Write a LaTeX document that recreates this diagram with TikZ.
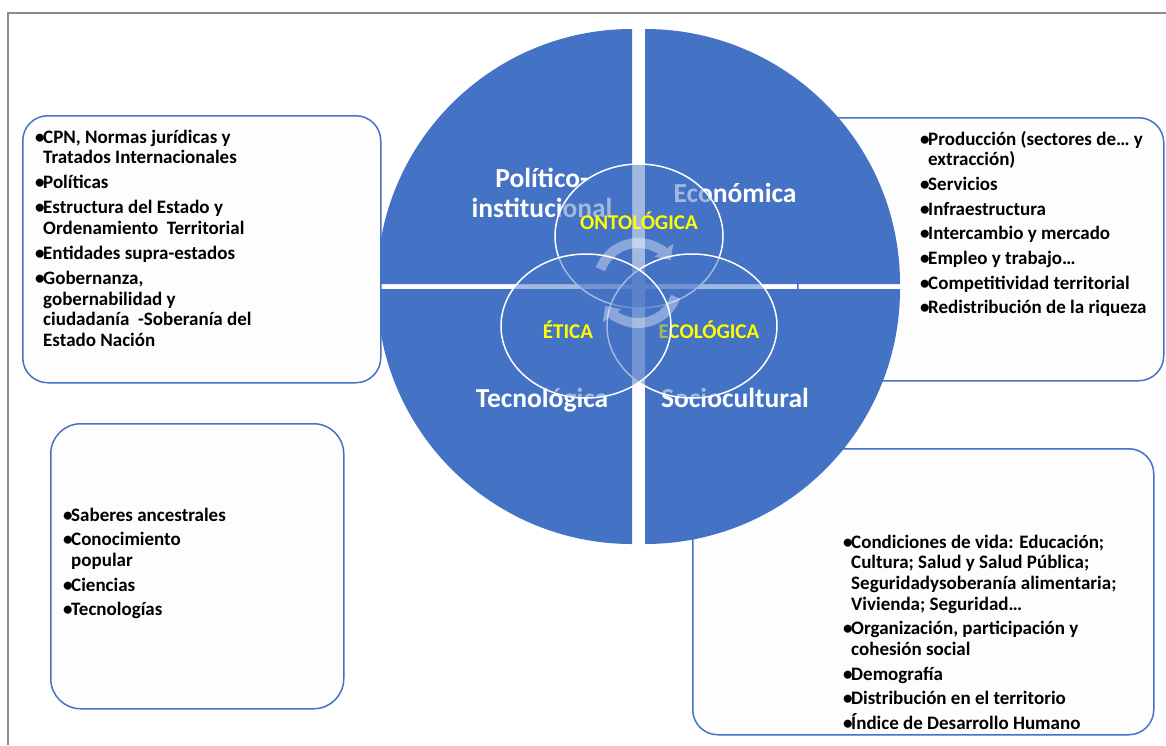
\documentclass[tikz,border=0pt]{standalone}
\usepackage{fontspec}
\setmainfont{Carlito}
\usetikzlibrary{arrows.meta}
\definecolor{ofblue}{HTML}{4472C4}
\definecolor{frm}{HTML}{8C8C8C}
\definecolor{boxfill}{HTML}{FDFDFD}
\definecolor{ylw}{HTML}{FFFF00}
\newcommand\bu{\makebox[8pt][l]{•}}
\begin{document}
\begin{tikzpicture}[x=1pt,y=-1pt,
 frame/.style={draw=frm, line width=2.2pt},
 infobox/.style={draw=ofblue, fill=boxfill, line width=1.5pt, rounded corners=25pt, rectangle, anchor=north west, inner sep=0},
 quad/.style={fill=ofblue},
 venn/.style={draw=white, line width=1.5pt, fill=ofblue, fill opacity=0.5},
 qlabel/.style={text=white, font=\fontsize{27.5}{30}\selectfont\bfseries, anchor=base, inner sep=0},
 vlabel/.style={text=ylw, font=\fontsize{21}{24}\selectfont\bfseries, anchor=base, inner sep=0},
 itemtext/.style={text=black, font=\fontsize{19}{20.7}\selectfont\bfseries, anchor=base west, inner sep=0},
 cyc/.style={white, line width=10pt, -{Triangle[width=22pt,length=12pt]}}
]
\useasboundingbox (0,0) rectangle (1166,745);
\fill[white] (0,0) rectangle (1166,745);
% frame (top and left)
\draw[frame] (1166,13) -- (8,13) -- (8,745);

% boxes behind circle
\node[infobox, minimum width=366pt, minimum height=263pt] (b2) at (797,117) {};
\node[infobox, minimum width=461pt, minimum height=286pt] (b4) at (692,448) {};
\node[infobox, minimum width=293pt, minimum height=285pt, rounded corners=30pt] (b3) at (50,423) {};

% quadrants
\fill[quad] (632,284) -- (632,29) arc[start angle=-90, end angle=-180, radius=255] -- cycle;
\fill[quad] (645,284) -- (645,29) arc[start angle=-90, end angle=0, radius=255] -- cycle;
\fill[quad] (632,289) -- (377,289) arc[start angle=180, end angle=90, radius=255] -- cycle;
\fill[quad] (645,289) -- (900,289) arc[start angle=0, end angle=90, radius=255] -- cycle;

% box over circle
\node[infobox, minimum width=358pt, minimum height=267pt] (b1) at (22,115) {};

% quadrant labels
\node[qlabel] (qpol) at (542,187) {\begin{tabular}[t]{@{}c@{}}Político-\\institucional\end{tabular}};
\node[qlabel] (qeco) at (735,202) {Económica};
\node[qlabel] (qtec) at (542,407) {Tecnológica};
\node[qlabel] (qsoc) at (735,407) {Sociocultural};

% venn circles
\draw[venn] (639,236) ellipse [x radius=84, y radius=72];
\node[vlabel] (onto) at (639,229) {ONTOLÓGICA};
\draw[venn] (692,326) ellipse [x radius=85, y radius=72];
\node[vlabel] (ecol) at (709,338) {ECOLÓGICA};
\draw[venn] (586,326) ellipse [x radius=85, y radius=72];
\node[vlabel] (etic) at (568,338) {ÉTICA};

% circular arrows
\begin{scope}[transparency group, opacity=0.38]
\draw[cyc] (638,283) ++(-160:40) arc[start angle=-160, end angle=-35, radius=40];
\draw[cyc] (638,283) ++(20:40) arc[start angle=20, end angle=145, radius=40];
\end{scope}

% box texts
\node[itemtext] (t1) at (35,143) {\begin{tabular}[t]{@{}l@{}l@{}}
\bu & CPN, Normas jurídicas y\\
 & Tratados Internacionales\\[4.3pt]
\bu & Políticas\\[4.3pt]
\bu & Estructura del Estado y\\
 & Ordenamiento\ \ Territorial\\[4.3pt]
\bu & Entidades supra-estados\\[4.3pt]
\bu & Gobernanza,\\
 & gobernabilidad y\\
 & ciudadanía\ \ -Soberanía del\\
 & Estado Nación
\end{tabular}};

\node[itemtext] (t2) at (920,145) {\begin{tabular}[t]{@{}l@{}l@{}}
\bu & Producción (sectores de… y\\
 & extracción)\\[4pt]
\bu & Servicios\\[4pt]
\bu & Infraestructura\\[4pt]
\bu & Intercambio y mercado\\[4pt]
\bu & Empleo y trabajo…\\[4pt]
\bu & Competitividad territorial\\[4pt]
\bu & Redistribución de la riqueza
\end{tabular}};

\node[itemtext] (t3) at (63,521) {\begin{tabular}[t]{@{}l@{}l@{}}
\bu & Saberes ancestrales\\[4pt]
\bu & Conocimiento\\
 & popular\\[4pt]
\bu & Ciencias\\[4pt]
\bu & Tecnologías
\end{tabular}};

\node[itemtext] (t4) at (843,548) {\begin{tabular}[t]{@{}l@{}l@{}}
\bu & Condiciones de vida: Educación;\\
 & Cultura; Salud y Salud Pública;\\
 & Seguridadysoberanía alimentaria;\\
 & Vivienda; Seguridad…\\[4pt]
\bu & Organización, participación y\\
 & cohesión social\\[4pt]
\bu & Demografía\\[4pt]
\bu & Distribución en el territorio\\[4pt]
\bu & \smash{Índice} de Desarrollo Humano
\end{tabular}};
\end{tikzpicture}
\end{document}
